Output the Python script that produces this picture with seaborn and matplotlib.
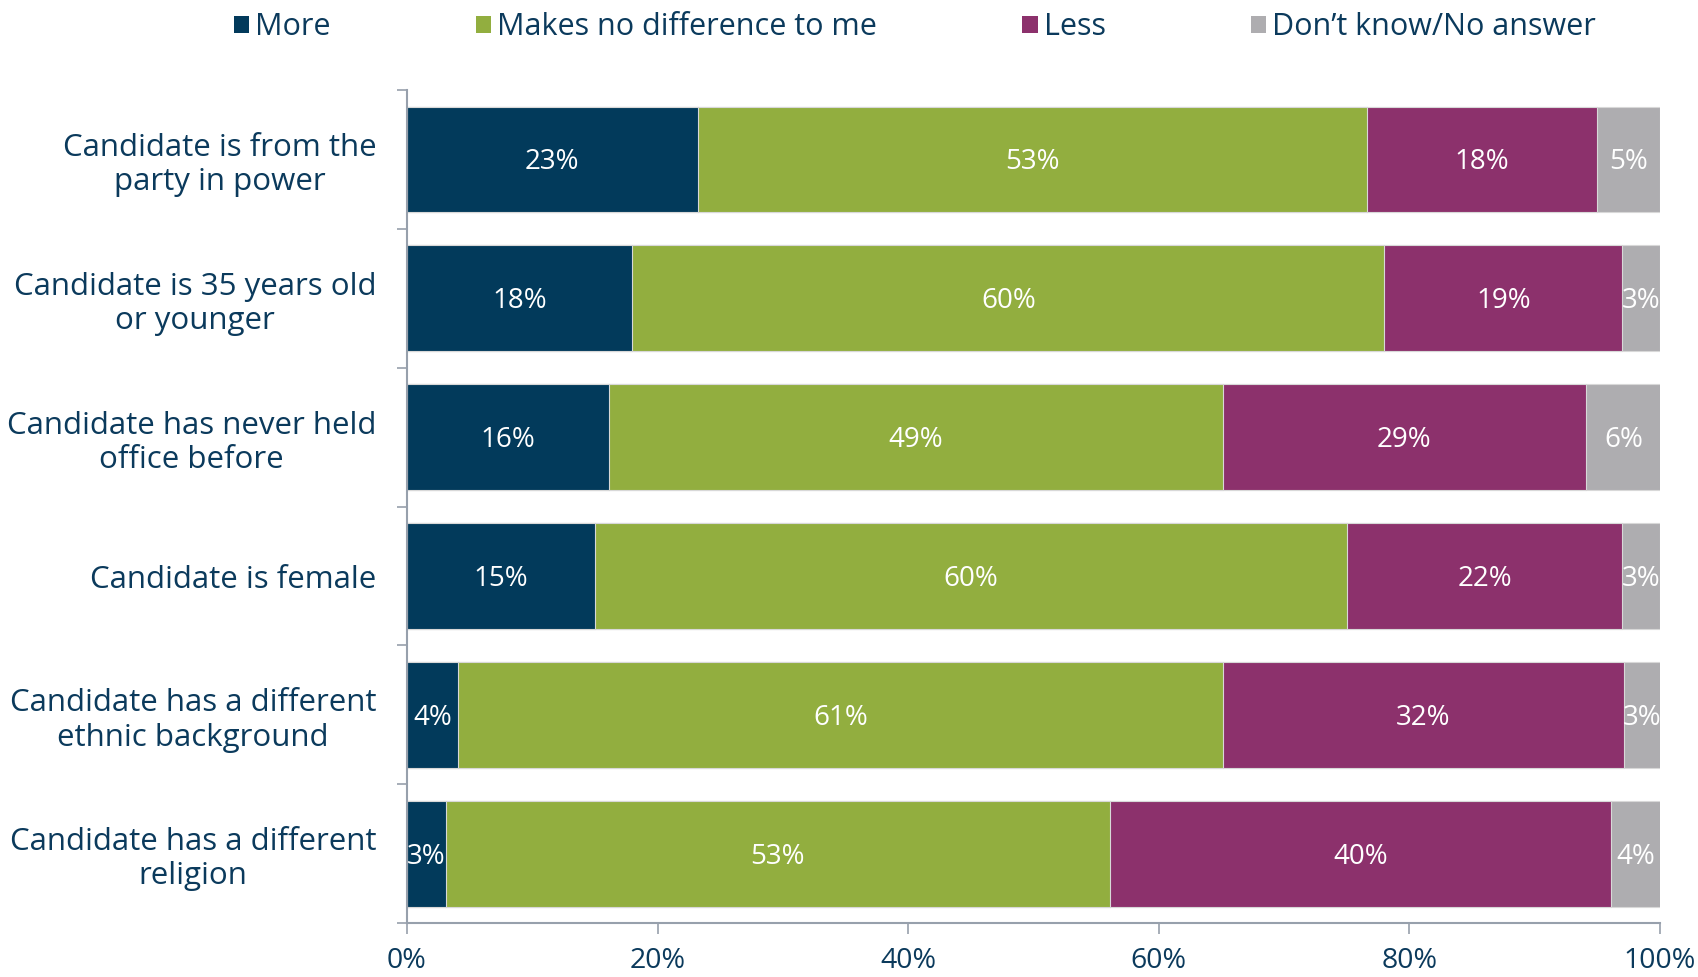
import pandas as pd
import numpy as np
import matplotlib
matplotlib.use("Agg")
import matplotlib.pyplot as plt
import seaborn as sns
from matplotlib.patches import Patch

# data (percent of respondents)
categories = [
    "Candidate is from the\nparty in power",
    "Candidate is 35 years old\nor younger",
    "Candidate has never held\noffice before",
    "Candidate is female",
    "Candidate has a different\nethnic background",
    "Candidate has a different\nreligion",
]
series_names = ["More", "Makes no difference to me", "Less", "Don\u2019t know/No answer"]
more = [23.2, 18.0, 16.1, 15.0, 4.1, 3.1]
no_diff = [53.4, 60.0, 49.0, 60.0, 61.0, 53.0]
less = [18.4, 19.0, 29.0, 22.0, 32.0, 40.0]
dont_know = [5.0, 3.0, 6.0, 3.0, 3.0, 4.0]
x_ticks = [0, 20, 40, 60, 80, 100]

colors = ["#023a5b", "#92ae3f", "#8c316c", "#aeadb0"]
text_col = "#0b3a5c"
spine_col = "#97a0ac"

sns.set_style("white")
plt.rcParams["font.family"] = ["Open Sans", "DejaVu Sans"]

df = pd.DataFrame({"cat": categories, "More": more, "NoDiff": no_diff,
                   "Less": less, "DK": dont_know})
cols = ["More", "NoDiff", "Less", "DK"]
cum = df[cols].cumsum(axis=1)

fig = plt.figure(figsize=(16.99, 9.77), dpi=100)
ax = fig.add_axes([0.2395, 0.055, 0.7375, 0.853])

# stacked bars: draw the cumulative totals from the back to the front
for col, c in reversed(list(zip(cols, colors))):
    sns.barplot(x=cum[col], y=df["cat"], color=c, orient="h", width=0.76,
                edgecolor="#d8d8d8", linewidth=0.8, ax=ax, saturation=1)

# value labels in the middle of each segment
for i in range(len(df)):
    for col in cols:
        v = df.loc[i, col]
        mid = cum.loc[i, col] - v / 2
        ax.text(mid, i + 0.02, f"{v:.0f}%", ha="center", va="center",
                color="white", fontsize=20)

ax.set_xlim(0, 100)
ax.set_ylim(len(df) - 0.5, -0.5)
ax.set_xticks(x_ticks)
ax.set_xticklabels([f"{t}%" for t in x_ticks], fontsize=20.5, color=text_col)
ax.set_yticks(range(len(df)))
ax.set_yticklabels(categories, fontsize=22.5, color=text_col,
                   multialignment="center", linespacing=1.18)
ax.set_yticks(np.arange(-0.5, len(df)), minor=True)
ax.tick_params(axis="y", which="major", length=0, pad=22)
ax.tick_params(axis="y", which="minor", left=True, length=7, width=1.2, color=spine_col)
ax.tick_params(axis="x", bottom=True, length=8, width=1.2, color=spine_col, pad=9)
ax.set_xlabel("")
ax.set_ylabel("")

for s in ["top", "right"]:
    ax.spines[s].set_visible(False)
for s in ["left", "bottom"]:
    ax.spines[s].set_color(spine_col)
    ax.spines[s].set_linewidth(1.5)

handles = [Patch(facecolor=c, edgecolor="none") for c in colors]
fig.legend(handles, series_names, loc="center", bbox_to_anchor=(0.5385, 0.972),
           ncol=4, frameon=False, fontsize=22, handlelength=0.5, handleheight=0.5,
           handletextpad=0.2, columnspacing=4.75, labelcolor=text_col)

fig.savefig("out.png", dpi=100)
